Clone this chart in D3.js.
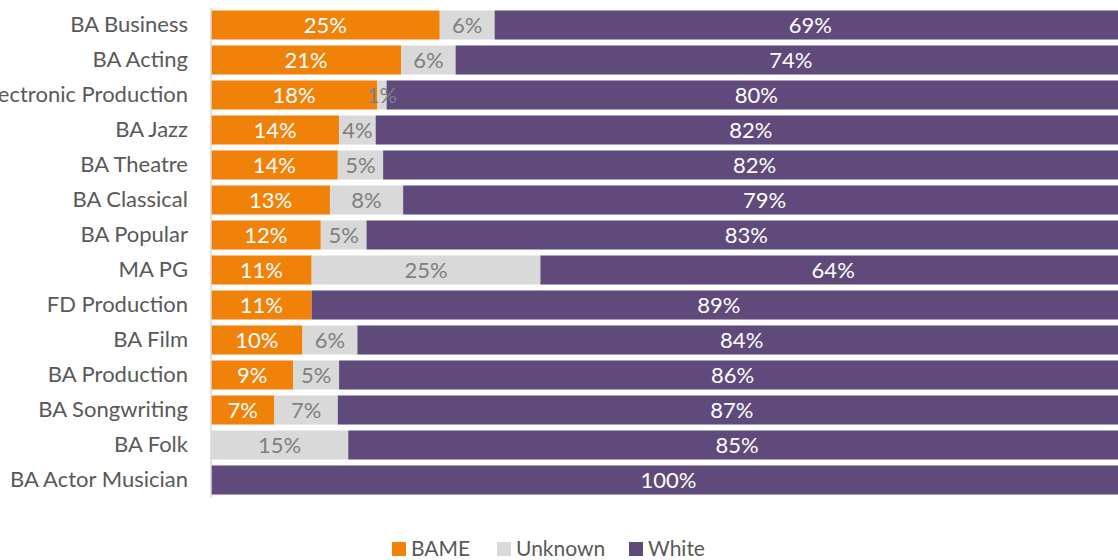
<!DOCTYPE html>
<html>
<head>
<meta charset="utf-8">
<script src="https://cdn.jsdelivr.net/npm/d3@7"></script>
<style>
  html, body { margin: 0; padding: 0; background: #fff; overflow: hidden; }
  svg { display: block; font-family: Lato, "Open Sans", sans-serif; }
</style>
</head>
<body>
<svg id="chart" width="1118" height="560"></svg>
<script>
// Course names, top to bottom
const courses = [
  "BA Business", "BA Acting", "BA Electronic Production", "BA Jazz", "BA Theatre",
  "BA Classical", "BA Popular", "MA PG", "FD Production", "BA Film",
  "BA Production", "BA Songwriting", "BA Folk", "BA Actor Musician"
];
// Share of students per group (%)
const bame    = [25, 21, 18, 14, 14, 13, 12, 11, 11, 10, 9, 7, 0, 0];
const unknown = [6, 6, 1, 4, 5, 8, 5, 25, 0, 6, 5, 7, 15, 0];
const white   = [69, 74, 80, 82, 82, 79, 83, 64, 89, 84, 86, 87, 85, 100];

const groups = ["BAME", "Unknown", "White"];
const colors = ["#F0820A", "#D9D9D9", "#604A7B"];
const labelColors = ["#FFFFFF", "#7F7F7F", "#FFFFFF"];
const fontSize = 22;

const rows = courses.map((c, i) => ({
  course: c, BAME: bame[i], Unknown: unknown[i], White: white[i]
}));

const svg = d3.select("#chart");
const left = 211, right = 1126;

const y = d3.scaleBand().domain(courses).range([7.5, 497.5]).paddingInner(0.17).paddingOuter(0.085);
const x = d3.scaleLinear().domain([0, 1]).range([left, right]);

const stack = d3.stack().keys(groups).offset(d3.stackOffsetExpand);
const series = stack(rows);

// Bars
const layer = svg.append("g").selectAll("g")
  .data(series).join("g")
  .attr("fill", (d, i) => colors[i]);

layer.selectAll("rect")
  .data(d => d.map(v => Object.assign(v, { key: d.key })))
  .join("rect")
  .attr("x", d => x(d[0]))
  .attr("y", d => y(d.data.course))
  .attr("width", d => Math.max(0, x(d[1]) - x(d[0])))
  .attr("height", y.bandwidth());

// Value labels
series.forEach((s, gi) => {
  svg.append("g").selectAll("text")
    .data(s.filter(d => d.data[s.key] > 0))
    .join("text")
    .attr("x", d => (x(d[0]) + x(d[1])) / 2)
    .attr("y", d => y(d.data.course) + y.bandwidth() / 2)
    .attr("dy", "0.35em")
    .attr("text-anchor", "middle")
    .attr("fill", labelColors[gi])
    .attr("font-size", fontSize)
    .text(d => d.data[s.key] + "%");
});

// Category axis
const yAxis = svg.append("g")
  .attr("transform", `translate(${left},0)`)
  .call(d3.axisLeft(y).tickSize(0).tickPadding(23));
yAxis.select(".domain").attr("stroke", "#D9D9D9").attr("stroke-width", 1.5)
  .attr("d", `M0,${8}V${498}`);
yAxis.selectAll("text")
  .attr("font-size", fontSize)
  .attr("font-family", "Lato, 'Open Sans', sans-serif")
  .attr("fill", "#595959");

// Legend
const legendX = [392, 497, 629];
const legend = svg.append("g").selectAll("g")
  .data(groups).join("g")
  .attr("transform", (d, i) => `translate(${legendX[i]},542)`);
legend.append("rect").attr("width", 14).attr("height", 14)
  .attr("fill", (d, i) => colors[i]);
legend.append("text")
  .attr("x", 19).attr("y", 14)
  .attr("font-size", 21).attr("fill", "#595959")
  .text(d => d);
</script>
</body>
</html>
